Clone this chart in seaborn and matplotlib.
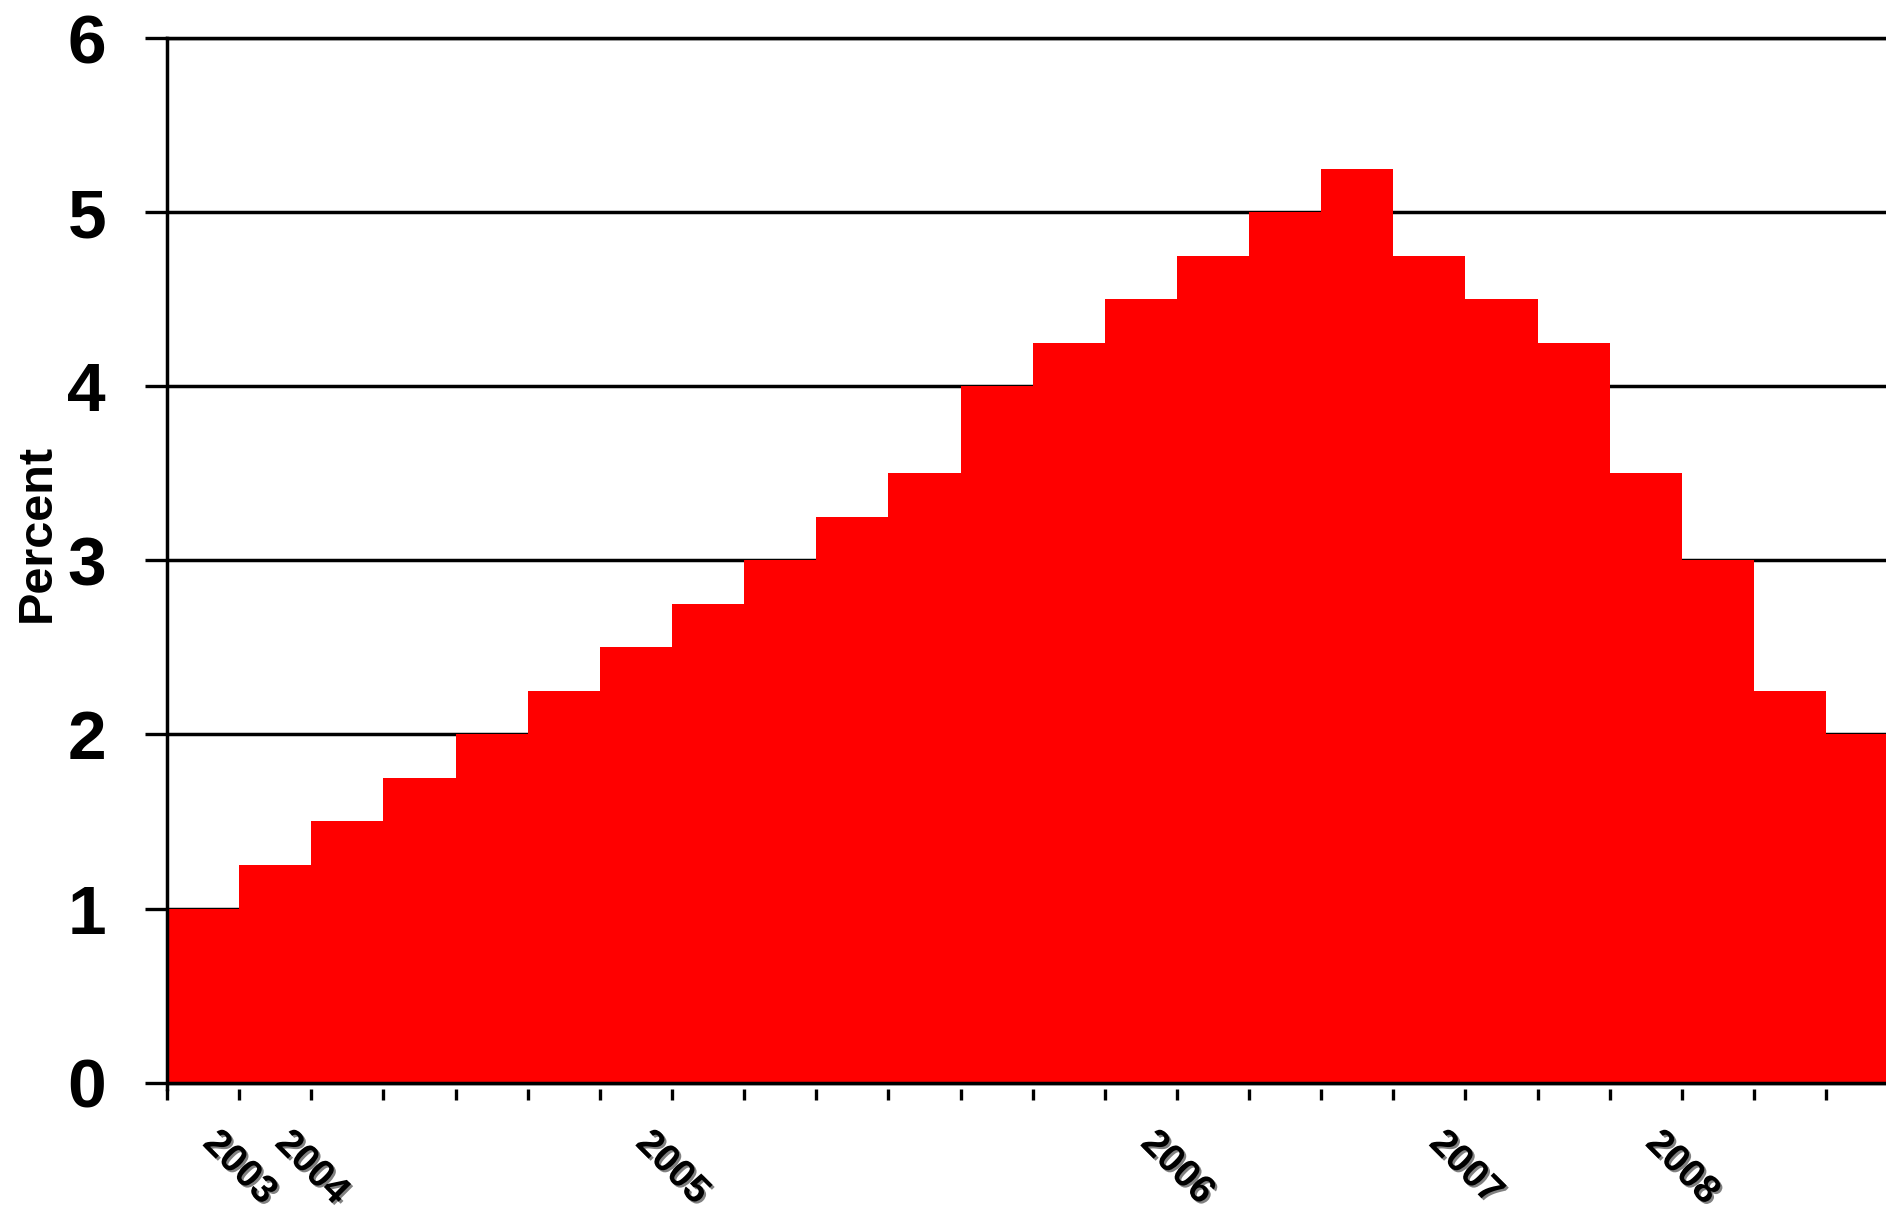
import numpy as np
import pandas as pd
import matplotlib
matplotlib.use("Agg")
import matplotlib.pyplot as plt
import matplotlib.patheffects as pe
import seaborn as sns

# ---- data ----
periods = list(range(24))
rates = [1.0, 1.25, 1.5, 1.75, 2.0, 2.25, 2.5, 2.75, 3.0, 3.25, 3.5,
         4.0, 4.25, 4.5, 4.75, 5.0, 5.25, 4.75, 4.5, 4.25, 3.5, 3.0, 2.25, 2.0]
tick_labels = ["", "2003", "2004", "", "", "", "", "2005", "", "", "", "",
               "", "", "2006", "", "", "", "2007", "", "", "2008", "", ""]
y_ticks = [0, 1, 2, 3, 4, 5, 6]

df = pd.DataFrame({"period": periods, "rate": rates})

sns.set_style("white")
plt.rcParams['font.family'] = ['Liberation Sans', 'DejaVu Sans']
plt.rcParams['font.weight'] = 'bold'
plt.rcParams['text.color'] = 'black'
plt.rcParams['axes.labelcolor'] = 'black'
plt.rcParams['xtick.color'] = 'black'
plt.rcParams['ytick.color'] = 'black'

fig = plt.figure(figsize=(18.86, 12.14), dpi=100)
ax = fig.add_axes([0.0886, 0.1033, 0.9114, 0.865])

sns.barplot(data=df, x="period", y="rate", color="#ff0000", saturation=1,
            width=1.0, linewidth=0, ax=ax, zorder=2)

ax.set_xlim(-0.5, 23.33)
ax.set_ylim(-0.035, 6)

ax.set_yticks(y_ticks)
ax.set_yticklabels([str(v) for v in y_ticks], fontsize=50, fontweight='bold',
                   color='black')
ax.set_xticks(np.arange(len(periods)) - 0.5)
ax.set_xticklabels(tick_labels, fontsize=28, fontweight='bold', rotation=-45,
                   ha='center', va='top', color='black')

ax.tick_params(axis='y', which='major', direction='out', length=16, width=2.4,
               color='black', pad=28, left=True)
ax.tick_params(axis='x', which='major', direction='out', length=8, width=2.4,
               color='black', pad=18, bottom=True)

for lbl in ax.get_xticklabels():
    lbl.set_path_effects([pe.withSimplePatchShadow(offset=(1.5, -1.5),
                                                   shadow_rgbFace='0.45', alpha=0.9)])

ax.yaxis.grid(True, color='black', linewidth=2.5, zorder=0)
ax.xaxis.grid(False)
ax.set_axisbelow(True)
ax.axhline(0, color='black', linewidth=2.5, zorder=3)

for side in ['right', 'bottom']:
    ax.spines[side].set_visible(False)
for side in ['left', 'top']:
    ax.spines[side].set_visible(True)
    ax.spines[side].set_color('black')
    ax.spines[side].set_linewidth(2.5)

ax.set_xlabel("")
ax.set_ylabel("Percent", fontsize=35, fontweight='bold', va='center', color='black')
ax.yaxis.set_label_coords(-0.0756, 0.529)

fig.savefig("out.png", dpi=100)
